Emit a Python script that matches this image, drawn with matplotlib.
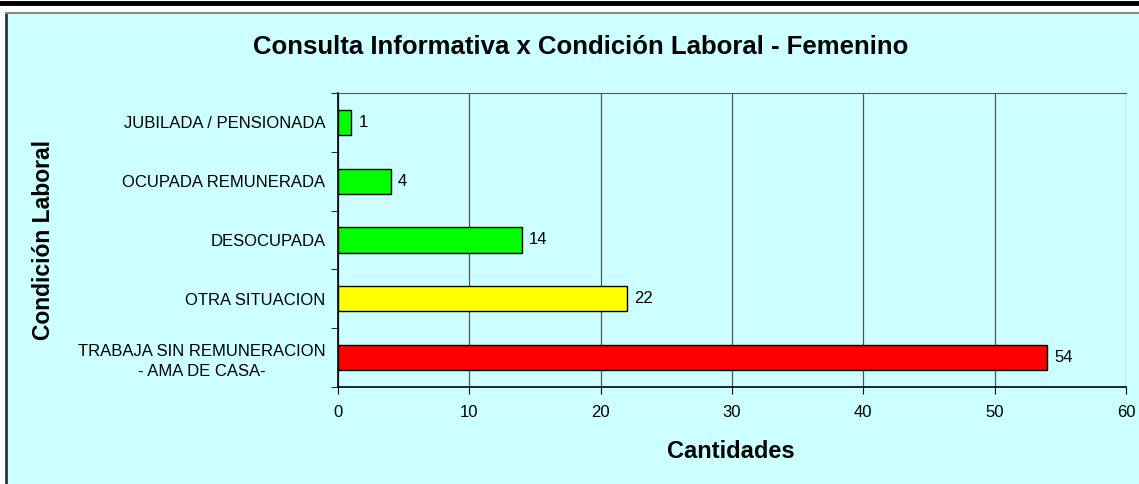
import matplotlib.pyplot as plt
from matplotlib.patches import Rectangle
from matplotlib.lines import Line2D

# Datos del gráfico (de arriba hacia abajo)
categorias = ['JUBILADA / PENSIONADA', 'OCUPADA REMUNERADA', 'DESOCUPADA',
              'OTRA SITUACION', 'TRABAJA SIN REMUNERACION\n- AMA DE CASA-']
cantidades = [1, 4, 14, 22, 54]
colores = ['#00FF00', '#00FF00', '#00FF00', '#FFFF00', '#FF0000']
ticks_x = [0, 10, 20, 30, 40, 50, 60]

plt.rcParams['font.family'] = ['Liberation Sans', 'DejaVu Sans']
fondo = '#CCFFFF'

fig = plt.figure(figsize=(11.39, 4.84), dpi=100)
fig.patch.set_facecolor('white')

# fondo y marco del gráfico
fig.add_artist(Rectangle((6 / 1139, -0.01), 1.0, 1 - 12.5 / 484 + 0.01,
                         transform=fig.transFigure, facecolor=fondo,
                         edgecolor='none', zorder=0))
fig.add_artist(Line2D([6 / 1139, 6 / 1139], [0, 1 - 12.5 / 484],
                      transform=fig.transFigure, color='#333333', lw=2))
fig.add_artist(Line2D([6 / 1139, 1], [1 - 12.5 / 484, 1 - 12.5 / 484],
                      transform=fig.transFigure, color='#888888', lw=1.5))
fig.add_artist(Line2D([0, 1], [1 - 3 / 484, 1 - 3 / 484],
                      transform=fig.transFigure, color='black', lw=3.5))

ax = fig.add_axes([338 / 1139, 1 - 387 / 484, (1126 - 338) / 1139, (387 - 93) / 484])
ax.set_facecolor(fondo)

y = list(range(len(categorias)))
ax.barh(y, cantidades, height=0.43, color=colores, edgecolor='black', linewidth=1, zorder=3)
for yi, v in zip(y, cantidades):
    ax.text(v + 0.55, yi, str(v), va='center', ha='left', fontsize=12, zorder=4)

ax.set_ylim(len(categorias) - 0.5, -0.5)
ax.set_yticks(y)
ax.set_yticklabels(categorias, fontsize=12, ha='right', multialignment='center',
                   linespacing=1.45)
ax.tick_params(axis='y', pad=9)
ax.set_yticks([i - 0.5 for i in range(len(categorias) + 1)], minor=True)
ax.tick_params(axis='y', which='major', length=0)
ax.tick_params(axis='y', which='minor', length=5, direction='out')

ax.set_xlim(0, 60)
ax.set_xticks(ticks_x)
ax.tick_params(axis='x', labelsize=12, length=5, pad=8)
ax.grid(axis='x', color='#555555', linewidth=0.9, zorder=0)

for lado in ['top', 'right']:
    ax.spines[lado].set_color('#555555')
ax.spines['right'].set_visible(False)
ax.spines['left'].set_linewidth(1.2)
ax.spines['bottom'].set_linewidth(1.2)

fig.text(581 / 1139, 1 - 47 / 484, 'Consulta Informativa x Condición Laboral - Femenino',
         ha='center', va='center', fontsize=18.5, fontweight='bold')
fig.text(731 / 1139, 1 - 452 / 484, 'Cantidades', ha='center', va='center',
         fontsize=17, fontweight='bold')
fig.text(44 / 1139, 1 - 240 / 484, 'Condición Laboral', ha='center', va='center',
         rotation=90, fontsize=16.5, fontweight='bold')

fig.savefig('out.png', dpi=100)
